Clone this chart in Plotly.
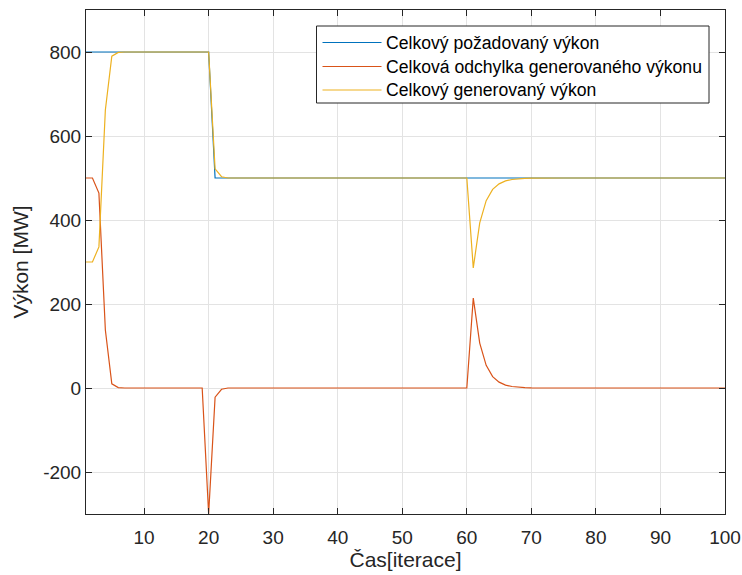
import plotly.graph_objects as go

# Iterations
iterations = list(range(1, 101))

# Total requested power (blue)
requested = [800] * 20 + [500] * 80

# Total deviation of generated power (red)
deviation = ([500, 500, 464, 138, 10, 1] + [0] * 13 + [-300]
             + [-22, -3] + [0] * 38
             + [214, 107, 54, 27, 14, 7, 3.5, 1.8, 0.9, 0.4] + [0] * 30)

# Total generated power (yellow)
generated = ([300, 300, 336, 662, 790, 799] + [800] * 13 + [800]
             + [522, 503] + [500] * 38
             + [286, 393, 446, 473, 486, 493, 496.5, 498.2, 499.1, 499.6] + [500] * 30)

series_names = ["Celkový požadovaný výkon",
                "Celková odchylka generovaného výkonu",
                "Celkový generovaný výkon"]
series_colors = ["#0072BD", "#D95319", "#EDB120"]

x_ticks = [10, 20, 30, 40, 50, 60, 70, 80, 90, 100]
y_ticks = [-200, 0, 200, 400, 600, 800]
y_tick_labels = ["-200", "0", "200", "400", "600", "800"]

FONT = "Liberation Sans, Arial, sans-serif"
W, H = 742, 575
ML, MR, MT, MB = 86, 17, 10, 61
PW, PH = W - ML - MR, H - MT - MB

def px_x(px):
    return (px - ML) / PW

def px_y(py):
    return (H - MB - py) / PH

fig = go.Figure()
for name, vals, col in zip(series_names, [requested, deviation, generated], series_colors):
    fig.add_trace(go.Scatter(x=iterations, y=vals, mode="lines", name=name,
                             line=dict(color=col, width=1.2), showlegend=False))

axis_common = dict(
    showline=True, linecolor="#262626", linewidth=1, mirror="allticks",
    ticks="inside", ticklen=6, tickcolor="#262626",
    showgrid=True, gridcolor="#e3e3e3", gridwidth=1, zeroline=False,
    automargin=False,
    tickfont=dict(family=FONT, size=19, color="#262626"),
)

fig.update_xaxes(range=[1, 100], tickvals=x_ticks, ticklabelstandoff=6,
                 title=dict(text="Čas[iterace]", font=dict(family=FONT, size=21, color="#262626"), standoff=5),
                 **axis_common)
fig.update_yaxes(range=[-300, 900], tickvals=y_ticks, ticktext=y_tick_labels,
                 title=dict(text="Výkon [MW]", font=dict(family=FONT, size=21, color="#262626"), standoff=8),
                 **axis_common)

# Custom legend box (MATLAB style)
shapes = [dict(type="rect", xref="paper", yref="paper",
               x0=px_x(316.5), x1=px_x(709), y0=px_y(103), y1=px_y(26),
               line=dict(color="#262626", width=1), fillcolor="white", layer="above")]
annotations = []
row_y = [42.5, 66.5, 90]
for name, col, ry in zip(series_names, series_colors, row_y):
    shapes.append(dict(type="line", xref="paper", yref="paper",
                       x0=px_x(322.5), x1=px_x(381.5), y0=px_y(ry), y1=px_y(ry),
                       line=dict(color=col, width=1.2), layer="above"))
    annotations.append(dict(xref="paper", yref="paper", x=px_x(384), y=px_y(ry),
                            xanchor="left", yanchor="middle", showarrow=False,
                            text=name, font=dict(family=FONT, size=17.6, color="black")))

fig.update_layout(
    width=W, height=H,
    margin=dict(l=ML, r=MR, t=MT, b=MB),
    paper_bgcolor="white", plot_bgcolor="white",
    showlegend=False,
    shapes=shapes, annotations=annotations,
)

fig.write_html("out.html")
